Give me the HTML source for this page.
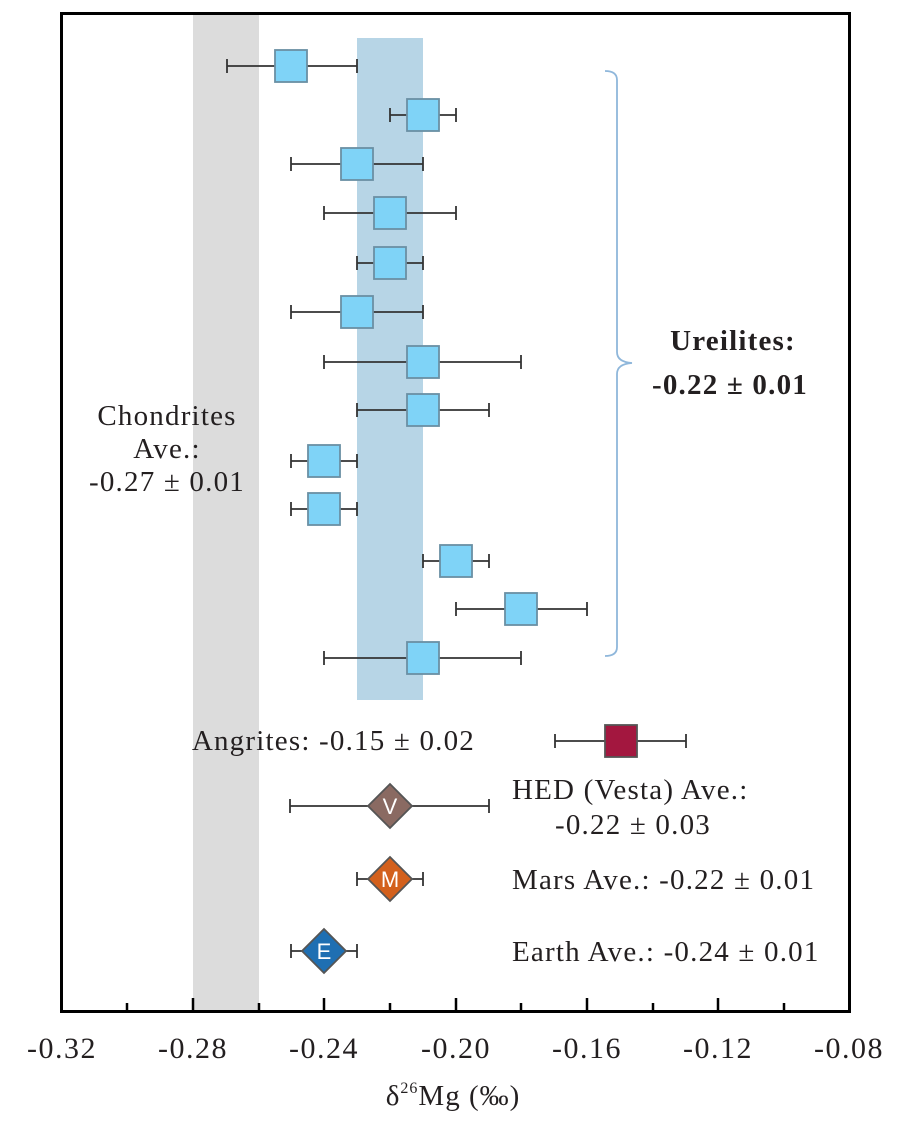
<!DOCTYPE html>
<html><head><meta charset="utf-8"><style>
html,body{margin:0;padding:0;background:#fff;}
svg{display:block;}
text{font-family:"Liberation Serif",serif;fill:#231f20;}
</style></head><body>
<svg width="917" height="1130" viewBox="0 0 917 1130" xmlns="http://www.w3.org/2000/svg">
<rect x="193" y="13" width="66" height="998" fill="#dcdcdc"/>
<rect x="357" y="38" width="66" height="662" fill="#b7d5e6"/>
<rect x="61.5" y="13.5" width="788" height="998" fill="none" stroke="#000" stroke-width="3"/>
<g stroke="#000" stroke-width="2.5">
<line x1="127" y1="1011" x2="127" y2="1003"/>
<line x1="193" y1="1011" x2="193" y2="998"/>
<line x1="259" y1="1011" x2="259" y2="1003"/>
<line x1="324" y1="1011" x2="324" y2="998"/>
<line x1="390" y1="1011" x2="390" y2="1003"/>
<line x1="456" y1="1011" x2="456" y2="998"/>
<line x1="521" y1="1011" x2="521" y2="1003"/>
<line x1="587" y1="1011" x2="587" y2="998"/>
<line x1="653" y1="1011" x2="653" y2="1003"/>
<line x1="718" y1="1011" x2="718" y2="998"/>
<line x1="784" y1="1011" x2="784" y2="1003"/>
</g>
<g font-size="30" text-anchor="middle" letter-spacing="1.5">
<text x="62" y="1058">-0.32</text><text x="193" y="1058">-0.28</text><text x="324" y="1058">-0.24</text><text x="456" y="1058">-0.20</text><text x="587" y="1058">-0.16</text><text x="718" y="1058">-0.12</text><text x="849" y="1058">-0.08</text>
</g>
<text x="453" y="1105" font-size="29" text-anchor="middle" letter-spacing="1">δ<tspan font-size="16" dy="-12">26</tspan><tspan dy="12">Mg (‰)</tspan></text>
<g stroke="#333" stroke-width="1.8" fill="#7fd3f7">
<g><line x1="227" y1="66" x2="357" y2="66"/><line x1="227" y1="59" x2="227" y2="73"/><line x1="357" y1="59" x2="357" y2="73"/><rect x="275" y="50" width="32" height="32" stroke="#6a8fa3"/></g>
<g><line x1="390" y1="115" x2="456" y2="115"/><line x1="390" y1="108" x2="390" y2="122"/><line x1="456" y1="108" x2="456" y2="122"/><rect x="407" y="99" width="32" height="32" stroke="#6a8fa3"/></g>
<g><line x1="291" y1="164" x2="423" y2="164"/><line x1="291" y1="157" x2="291" y2="171"/><line x1="423" y1="157" x2="423" y2="171"/><rect x="341" y="148" width="32" height="32" stroke="#6a8fa3"/></g>
<g><line x1="324" y1="213" x2="456" y2="213"/><line x1="324" y1="206" x2="324" y2="220"/><line x1="456" y1="206" x2="456" y2="220"/><rect x="374" y="197" width="32" height="32" stroke="#6a8fa3"/></g>
<g><line x1="357" y1="263" x2="423" y2="263"/><line x1="357" y1="256" x2="357" y2="270"/><line x1="423" y1="256" x2="423" y2="270"/><rect x="374" y="247" width="32" height="32" stroke="#6a8fa3"/></g>
<g><line x1="291" y1="312" x2="423" y2="312"/><line x1="291" y1="305" x2="291" y2="319"/><line x1="423" y1="305" x2="423" y2="319"/><rect x="341" y="296" width="32" height="32" stroke="#6a8fa3"/></g>
<g><line x1="324" y1="362" x2="521" y2="362"/><line x1="324" y1="355" x2="324" y2="369"/><line x1="521" y1="355" x2="521" y2="369"/><rect x="407" y="346" width="32" height="32" stroke="#6a8fa3"/></g>
<g><line x1="357" y1="410" x2="489" y2="410"/><line x1="357" y1="403" x2="357" y2="417"/><line x1="489" y1="403" x2="489" y2="417"/><rect x="407" y="394" width="32" height="32" stroke="#6a8fa3"/></g>
<g><line x1="291" y1="461" x2="357" y2="461"/><line x1="291" y1="454" x2="291" y2="468"/><line x1="357" y1="454" x2="357" y2="468"/><rect x="308" y="445" width="32" height="32" stroke="#6a8fa3"/></g>
<g><line x1="291" y1="509" x2="357" y2="509"/><line x1="291" y1="502" x2="291" y2="516"/><line x1="357" y1="502" x2="357" y2="516"/><rect x="308" y="493" width="32" height="32" stroke="#6a8fa3"/></g>
<g><line x1="423" y1="561" x2="489" y2="561"/><line x1="423" y1="554" x2="423" y2="568"/><line x1="489" y1="554" x2="489" y2="568"/><rect x="440" y="545" width="32" height="32" stroke="#6a8fa3"/></g>
<g><line x1="456" y1="609" x2="587" y2="609"/><line x1="456" y1="602" x2="456" y2="616"/><line x1="587" y1="602" x2="587" y2="616"/><rect x="505" y="593" width="32" height="32" stroke="#6a8fa3"/></g>
<g><line x1="324" y1="658" x2="521" y2="658"/><line x1="324" y1="651" x2="324" y2="665"/><line x1="521" y1="651" x2="521" y2="665"/><rect x="407" y="642" width="32" height="32" stroke="#6a8fa3"/></g>
<g><line x1="555" y1="741" x2="686" y2="741"/><line x1="555" y1="734" x2="555" y2="748"/><line x1="686" y1="734" x2="686" y2="748"/><rect x="605" y="725" width="32" height="32" fill="#a3173f" stroke="#555"/></g>
<g><line x1="290" y1="806" x2="489" y2="806"/><line x1="290" y1="799" x2="290" y2="813"/><line x1="489" y1="799" x2="489" y2="813"/><polygon points="390,784 412,806 390,828 368,806" fill="#8a6a62" stroke="#555"/></g>
<g><line x1="357" y1="879" x2="423" y2="879"/><line x1="357" y1="872" x2="357" y2="886"/><line x1="423" y1="872" x2="423" y2="886"/><polygon points="390,857 412,879 390,901 368,879" fill="#d3601c" stroke="#555"/></g>
<g><line x1="291" y1="951" x2="357" y2="951"/><line x1="291" y1="944" x2="291" y2="958"/><line x1="357" y1="944" x2="357" y2="958"/><polygon points="324,929 346,951 324,973 302,951" fill="#1f6fb2" stroke="#555"/></g>
</g>
<g font-size="22" text-anchor="middle">
<text x="390" y="814" style="fill:#fff;font-family:'Liberation Sans',sans-serif">V</text>
<text x="390" y="887" style="fill:#fff;font-family:'Liberation Sans',sans-serif">M</text>
<text x="324" y="959" style="fill:#fff;font-family:'Liberation Sans',sans-serif">E</text>
</g>
<path d="M605,71 Q617,71 617,80 L617,352 Q617,362 632,363 Q617,364 617,374 L617,647 Q617,656 605,656" fill="none" stroke="#8fb7db" stroke-width="1.8"/>
<g font-size="29" letter-spacing="1.2">
<text x="167" y="425" text-anchor="middle">Chondrites</text>
<text x="167" y="458" text-anchor="middle">Ave.:</text>
<text x="167" y="491" text-anchor="middle">-0.27 ± 0.01</text>
<text x="733" y="350" text-anchor="middle" font-weight="bold">Ureilites:</text>
<text x="730" y="394" text-anchor="middle" font-weight="bold">-0.22 ± 0.01</text>
<text x="475" y="750" text-anchor="end">Angrites: -0.15 ± 0.02</text>
<text x="512" y="799">HED (Vesta) Ave.:</text>
<text x="555" y="834">-0.22 ± 0.03</text>
<text x="512" y="889">Mars Ave.: -0.22 ± 0.01</text>
<text x="512" y="961">Earth Ave.: -0.24 ± 0.01</text>
</g>
</svg>
</body></html>
